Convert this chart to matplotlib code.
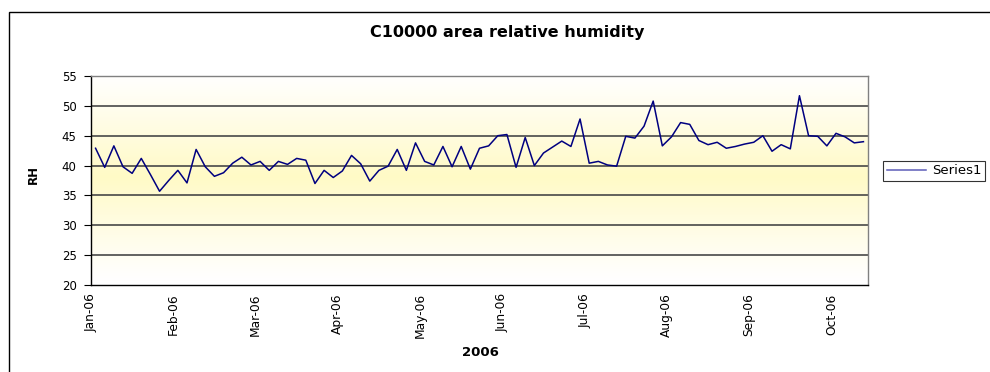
import matplotlib
matplotlib.use("Agg")
import matplotlib.pyplot as plt
import numpy as np
from matplotlib.patches import Rectangle

# relative humidity readings, C10000 area, 2006
rh = [42.9, 39.7, 43.3, 39.8, 38.7, 41.2, 38.5, 35.7, 37.5, 39.2,
      37.1, 42.7, 39.8, 38.2, 38.8, 40.4, 41.4, 40.1, 40.7, 39.2,
      40.7, 40.2, 41.2, 40.9, 37.0, 39.2, 38.0, 39.1, 41.7, 40.3,
      37.4, 39.2, 39.9, 42.7, 39.2, 43.8, 40.7, 40.1, 43.2, 39.8,
      43.2, 39.4, 42.9, 43.3, 45.0, 45.2, 39.7, 44.7, 40.0, 42.1,
      43.1, 44.1, 43.2, 47.8, 40.4, 40.7, 40.1, 39.9, 44.9, 44.6,
      46.6, 50.8, 43.3, 44.8, 47.2, 46.9, 44.2, 43.5, 43.9, 42.9,
      43.2, 43.6, 43.9, 45.0, 42.4, 43.5, 42.8, 51.7, 45.0, 44.9,
      43.3, 45.4, 44.8, 43.8, 44.0]
month_labels = ["Jan-06", "Feb-06", "Mar-06", "Apr-06", "May-06",
                "Jun-06", "Jul-06", "Aug-06", "Sep-06", "Oct-06"]
label_every = 9
y_ticks = [20, 25, 30, 35, 40, 45, 50, 55]

plt.rcParams['font.family'] = ['DejaVu Sans']

W, H = 990, 372
fig = plt.figure(figsize=(W / 100, H / 100), dpi=100)

# chart area frame (runs off the right and bottom edge)
fig.patches.append(Rectangle((9 / W, -0.1), 1.2, 1.1 - 12 / H, transform=fig.transFigure,
                             fill=False, edgecolor='black', linewidth=1.0))

left, right, top, bottom = 91, 868, 76, 285
ax = fig.add_axes([left / W, 1 - bottom / H, (right - left) / W, (bottom - top) / H])

n = len(rh)
x = np.arange(n) + 0.5

# white - light yellow - white fill behind the plot
t = np.linspace(0, 1, 256)
w = 1 - np.abs(t - 0.52) * 2
w = np.clip(w, 0, 1) ** 1.1
peak = np.array([255, 250, 198]) / 255.0
grad = np.ones((256, 1, 3)) * (1 - w[:, None, None]) + peak * w[:, None, None]
ax.imshow(grad, extent=[0, n, 20, 55], aspect='auto', origin='lower', zorder=0)

for v in y_ticks[1:-1]:
    ax.axhline(v, color='#484848', linewidth=1.2, zorder=1)

line, = ax.plot(x, rh, color='#000080', linewidth=1.1, zorder=3)

ax.set_xlim(0, n)
ax.set_ylim(20, 55)
ax.set_yticks(y_ticks)
ax.set_yticklabels([str(v) for v in y_ticks], fontsize=8.5)
pos = [i * label_every for i in range(len(month_labels))]
ax.set_xticks(pos)
ax.set_xticklabels(month_labels, rotation=90, fontsize=8.8)
ax.tick_params(axis='x', length=0, pad=6)
ax.tick_params(axis='y', direction='out', length=4.8, width=0.8, pad=5.5)

for s in ['left', 'bottom']:
    ax.spines[s].set_color('black')
    ax.spines[s].set_linewidth(1.0)
for s in ['top', 'right']:
    ax.spines[s].set_color('#808080')
    ax.spines[s].set_linewidth(1.0)

fig.text(507 / W, 1 - 33 / H, "C10000 area relative humidity", ha='center', va='center',
         fontsize=11.5, fontweight='bold')
fig.text(33 / W, 1 - 175 / H, "RH", rotation=90, ha='center', va='center',
         fontsize=8.5, fontweight='bold')
fig.text(480 / W, 1 - 353 / H, "2006", ha='center', va='center',
         fontsize=9.5, fontweight='bold')

leg = fig.legend([line], ["Series1"], loc='center left',
                 bbox_to_anchor=(883 / W, 1 - 171 / H), bbox_transform=fig.transFigure,
                 fontsize=9.5, frameon=True, fancybox=False, borderaxespad=0,
                 handlelength=2.95, handletextpad=0.45, borderpad=0.3)
leg.get_frame().set_edgecolor('black')
leg.get_frame().set_linewidth(0.8)
leg.legend_handles[0].set_color('#5c5cb8')

fig.savefig("out.png", dpi=100)
